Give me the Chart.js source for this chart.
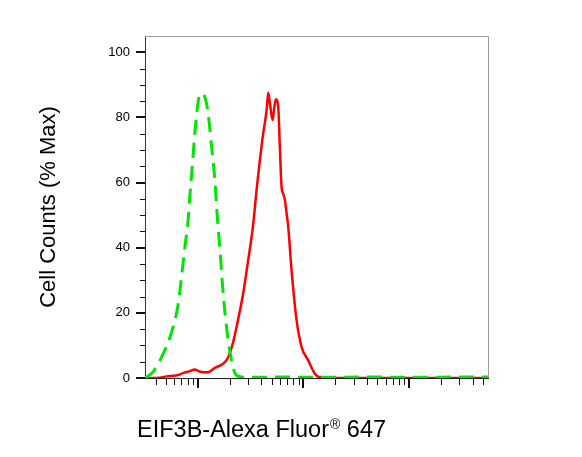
<!DOCTYPE html>
<html>
<head>
<meta charset="utf-8">
<script src="https://cdn.jsdelivr.net/npm/chart.js@4.4.0/dist/chart.umd.min.js"></script>
<style>
  html, body { margin: 0; padding: 0; background: #fff; }
  #wrap { width: 582px; height: 457px; position: relative; }
</style>
</head>
<body>
<div id="wrap"><canvas id="myChart"></canvas></div>
<script>
// Isotype control (green dashed)
const greenX = [31.6, 37.7, 46.9, 56.3, 65, 70, 75.3, 80.9, 84, 89.1, 93.7, 98.4, 103, 107, 116, 125, 135, 145, 152, 162, 170, 180, 194, 208, 224, 250, 300, 600, 1500, 4000, 12000, 30000, 56000];
const greenY = [0, 1.9, 7.4, 14, 22.5, 31, 40, 48.5, 55.7, 66, 75.2, 82.3, 86.5, 87.4, 86.4, 81.4, 71, 60.8, 50.6, 39.5, 30, 20.5, 11.5, 5.6, 1.6, 0.4, 0.2, 0.3, 0.2, 0.3, 0.2, 0.3, 0.3];

// EIF3B (red solid)
const redX = [31.6, 43.6, 50.5, 62.8, 72.6, 84, 93.7, 100.7, 112, 125, 145, 174, 194, 216, 241, 269, 300, 334, 360, 387, 416, 432, 449, 464, 481, 510, 530, 548, 577, 598, 621, 645, 668, 693, 718, 772, 862, 962, 1110, 1284, 1433, 1782, 5000, 20000, 56000];
const redY = [0, 0.1, 0.5, 0.8, 1.5, 2.1, 2.6, 2.2, 1.8, 1.8, 3.1, 4.4, 6.4, 11, 18, 26, 36.2, 47, 57.7, 66.9, 75.1, 78.5, 82.5, 87.6, 84.5, 79.2, 83, 85.6, 83.3, 71, 58.7, 56.5, 54.6, 50.5, 46.5, 33.1, 17.7, 9.5, 5.4, 1.3, 0.2, 0, 0, 0, 0];

const yTicks = [0, 20, 40, 60, 80, 100];
const yMinorTicks = [5, 10, 15, 25, 30, 35, 45, 50, 55, 65, 70, 75, 85, 90, 95];
const xMajorTicks = [100, 1000, 10000];
const xMinorTicks = [40, 50, 60, 70, 80, 90, 200, 300, 400, 500, 600, 700, 800, 900,
  2000, 3000, 4000, 5000, 6000, 7000, 8000, 9000, 20000, 30000, 40000, 50000];

const xTitle = 'EIF3B-Alexa Fluor';
const xTitleSup = '®';
const xTitleEnd = ' 647';
const yTitle = 'Cell Counts (% Max)';

const FONT = "'Liberation Sans', Arial, sans-serif";

function pts(xs, ys) {
  return xs.map((v, i) => ({ x: v, y: ys[i] }));
}

// tick marks, frame and axis titles
const axisDecor = {
  id: 'axisDecor',
  afterDraw(chart) {
    const ctx = chart.ctx;
    const a = chart.chartArea;
    const x = chart.scales.x, y = chart.scales.y;
    ctx.save();
    // grey frame top/right
    ctx.strokeStyle = '#9a9a9a';
    ctx.lineWidth = 1;
    ctx.beginPath();
    ctx.moveTo(a.left, a.top + 0.5);
    ctx.lineTo(a.right + 0.5, a.top + 0.5);
    ctx.lineTo(a.right + 0.5, a.bottom);
    ctx.stroke();

    ctx.strokeStyle = '#111';
    function seg(x1, y1, x2, y2, w) {
      ctx.lineWidth = w;
      ctx.beginPath();
      ctx.moveTo(x1, y1);
      ctx.lineTo(x2, y2);
      ctx.stroke();
    }
    yTicks.forEach(v => {
      const p = Math.round(y.getPixelForValue(v));
      seg(a.left - 9, p, a.left, p, 2);
    });
    yMinorTicks.forEach(v => {
      const p = Math.round(y.getPixelForValue(v)) + 0.5;
      seg(a.left - 5, p, a.left, p, 1);
    });
    xMajorTicks.forEach(v => {
      const p = Math.round(x.getPixelForValue(v));
      seg(p, a.bottom, p, a.bottom + 10, 2);
    });
    xMinorTicks.forEach(v => {
      const p = Math.round(x.getPixelForValue(v)) + 0.5;
      seg(p, a.bottom, p, a.bottom + 7, 1);
    });

    // titles
    ctx.fillStyle = '#000';
    ctx.textBaseline = 'alphabetic';
    ctx.textAlign = 'left';
    ctx.font = '23.5px ' + FONT;
    let tx = 137;
    ctx.fillText(xTitle, tx, 437);
    tx += ctx.measureText(xTitle).width + 1;
    ctx.font = '14px ' + FONT;
    ctx.fillText(xTitleSup, tx, 429);
    tx += ctx.measureText(xTitleSup).width;
    ctx.font = '23.5px ' + FONT;
    ctx.fillText(xTitleEnd, tx, 437);

    ctx.translate(49, 207);
    ctx.rotate(-Math.PI / 2);
    ctx.textAlign = 'center';
    ctx.textBaseline = 'middle';
    ctx.font = '22px ' + FONT;
    ctx.fillText(yTitle, 0, 0);
    ctx.restore();
  }
};

const ctx = document.getElementById('myChart');

new Chart(ctx, {
  type: 'line',
  data: {
    datasets: [{
      label: 'Isotype',
      data: pts(greenX, greenY),
      borderColor: 'rgb(0,230,0)',
      borderWidth: 3,
      borderDash: [15, 8],
      pointRadius: 0,
      cubicInterpolationMode: 'monotone',
      fill: false
    }, {
      label: 'EIF3B',
      data: pts(redX, redY),
      borderColor: 'rgb(255,0,0)',
      borderWidth: 2.5,
      pointRadius: 0,
      cubicInterpolationMode: 'monotone',
      fill: false
    }]
  },
  plugins: [axisDecor],
  options: {
    responsive: true,
    maintainAspectRatio: false,
    animation: false,
    layout: { padding: { left: 0, top: 36, right: 94, bottom: 0 } },
    plugins: {
      legend: { display: false },
      tooltip: { enabled: false },
      title: { display: false }
    },
    scales: {
      x: {
        type: 'logarithmic',
        min: 31.6,
        max: 56000,
        grid: { display: false },
        ticks: { display: false },
        border: { display: true, color: '#222', width: 1 },
        afterFit: s => { s.height = 79; }
      },
      y: {
        min: 0,
        max: 105,
        afterBuildTicks: s => { s.ticks = yTicks.map(v => ({ value: v })); },
        afterFit: s => { s.width = 145; },
        grid: { display: true, drawOnChartArea: false, drawTicks: true, tickLength: 9, color: 'rgba(0,0,0,0)' },
        border: { display: true, color: '#333', width: 1 },
        ticks: { padding: 6, color: '#000', font: { family: FONT, size: 13 } }
      }
    }
  }
});
</script>
</body>
</html>
